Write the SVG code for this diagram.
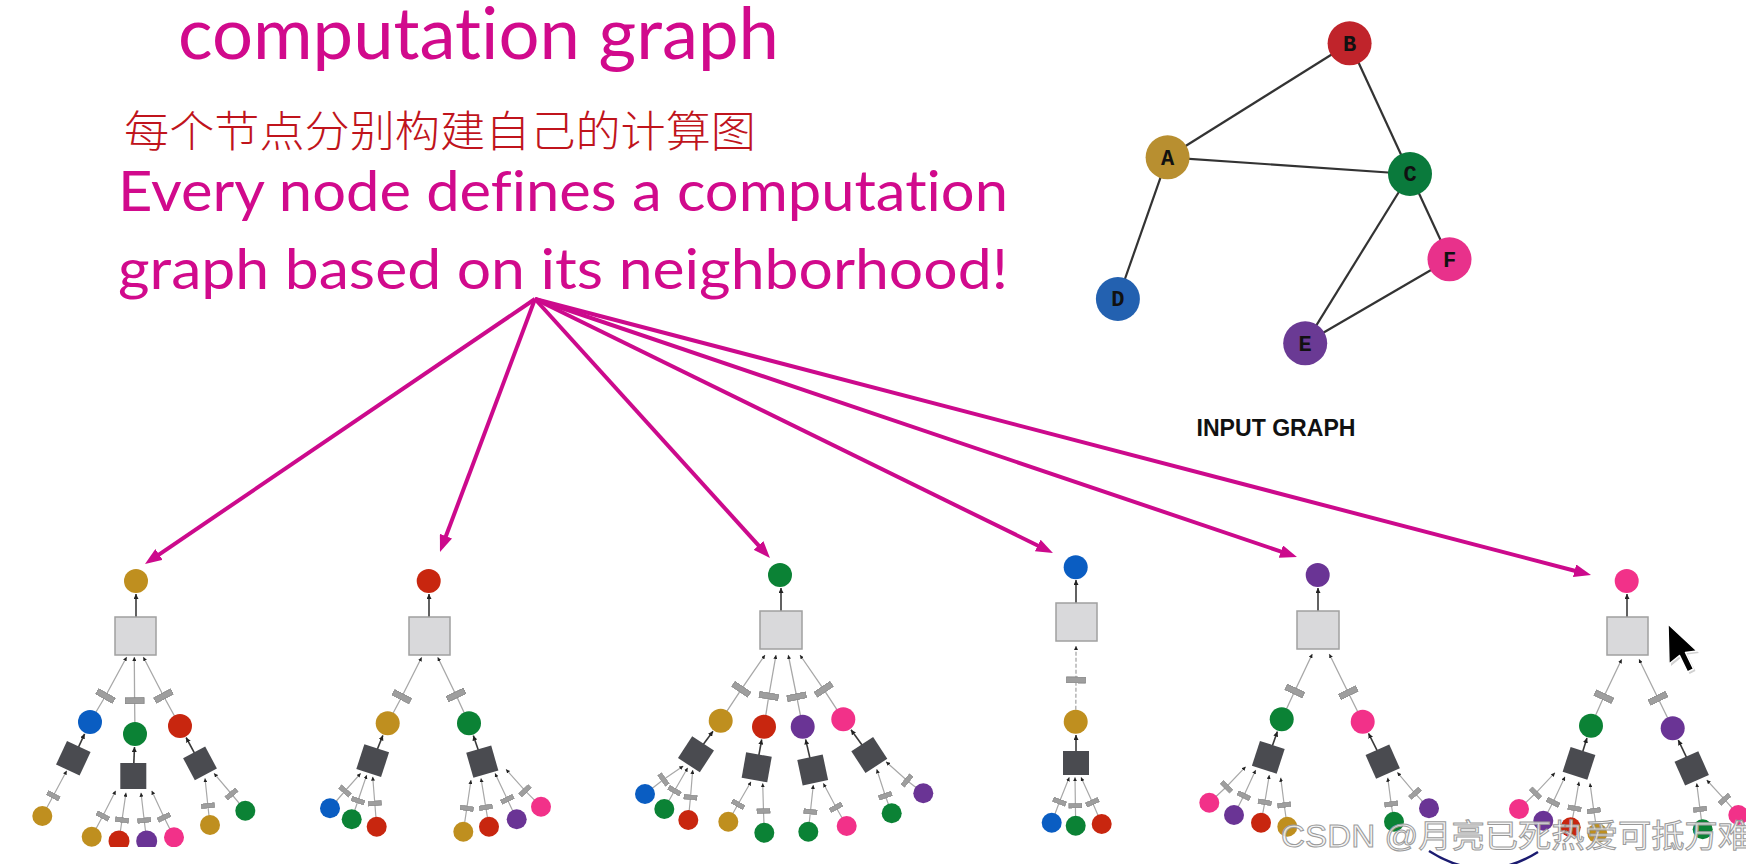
<svg xmlns="http://www.w3.org/2000/svg" width="1746" height="864" viewBox="0 0 1746 864">
<style>
.t{font-family:Lato,"Open Sans",sans-serif;fill:#D10A8C;font-variant-ligatures:none}
.cn{font-family:"Noto Sans CJK SC",sans-serif;fill:#C0141C;font-size:43px;font-weight:300}
.ge{stroke:#333;stroke-width:2.2}
.gl{font-family:"Liberation Mono",monospace;font-weight:bold;font-size:22px;fill:#111;text-anchor:middle}
.ma{stroke:#CC0A8C;stroke-width:4;fill:none;marker-end:url(#ma)}
.bs{fill:#D9D9DB;stroke:#A0A0A0;stroke-width:1.5}
.ds{fill:#4A4B50}
.e1{fill:none;stroke:#A8A8A8;stroke-width:1.3;marker-mid:url(#r1);marker-end:url(#ah)}
.e2{fill:none;stroke:#A8A8A8;stroke-width:1.2;marker-mid:url(#r2);marker-end:url(#ah)}
.ed{stroke:#3A3A3A;stroke-width:1.6;marker-end:url(#ad)}
.dsh{stroke-dasharray:4 2}
.go{fill:#BF8F1F}.rd{fill:#C8260F}.gr{fill:#0B8235}.bl{fill:#0A5DC2}.pu{fill:#6A3495}.pk{fill:#F23189}
.wm{font-family:"Liberation Sans","Noto Sans CJK SC",sans-serif;font-size:32px;fill:#f4f4f4;fill-opacity:0.85;stroke:#9a9a9a;stroke-width:1}
</style>
<defs>
<marker id="ma" viewBox="0 0 17 13" refX="5" refY="6.5" markerWidth="17" markerHeight="13" markerUnits="userSpaceOnUse" orient="auto"><path d="M0,0 L17,6.5 L0,13 z" fill="#CC0A8C"/></marker>
<marker id="ah" viewBox="0 0 4 4" refX="4" refY="2" markerWidth="4" markerHeight="4" markerUnits="userSpaceOnUse" orient="auto"><path d="M0,0 L4,2 L0,4 z" fill="#222"/></marker>
<marker id="ad" viewBox="0 0 5 5" refX="5" refY="2.5" markerWidth="5" markerHeight="5" markerUnits="userSpaceOnUse" orient="auto"><path d="M0,0 L5,2.5 L0,5 z" fill="#222"/></marker>
<marker id="r1" viewBox="0 0 7 20" refX="3.5" refY="10" markerWidth="7" markerHeight="20" markerUnits="userSpaceOnUse" orient="auto"><rect x="0.4" y="0.4" width="6.2" height="19.2" fill="#9E9E9E" stroke="#808080" stroke-width="0.7"/></marker>
<marker id="r2" viewBox="0 0 5.5 14" refX="2.75" refY="7" markerWidth="5.5" markerHeight="14" markerUnits="userSpaceOnUse" orient="auto"><rect x="0.35" y="0.35" width="4.8" height="13.3" fill="#9E9E9E" stroke="#808080" stroke-width="0.6"/></marker>
<clipPath id="c1"><rect x="0" y="0" width="300" height="847"/></clipPath>
</defs>
<rect width="1746" height="864" fill="#fff"/>

<g id="texts">
<text class="t" x="178" y="59" font-size="72" textLength="601" lengthAdjust="spacingAndGlyphs">computation graph</text>
<text class="cn" x="124" y="147" textLength="632" lengthAdjust="spacingAndGlyphs">每个节点分别构建自己的计算图</text>
<text class="t" x="118" y="211" font-size="57" textLength="890" lengthAdjust="spacingAndGlyphs">Every node defines a computation</text>
<text class="t" x="118" y="289" font-size="57" textLength="890" lengthAdjust="spacingAndGlyphs">graph based on its neighborhood!</text>
<text x="1196.5" y="436" font-family="Liberation Sans,Arial,sans-serif" font-weight="bold" font-size="23" fill="#111" textLength="159" lengthAdjust="spacingAndGlyphs">INPUT GRAPH</text>
</g>

<g id="connectors">
<g id="main-arrows">
<line class="ma" x1="535" y1="299" x2="154.9" y2="557.3"/>
<line class="ma" x1="535" y1="299" x2="444.2" y2="540.8"/>
<line class="ma" x1="535" y1="299" x2="761.9" y2="549.1"/>
<line class="ma" x1="535" y1="299" x2="1042.2" y2="547.7"/>
<line class="ma" x1="535" y1="299" x2="1285.6" y2="553.1"/>
<line class="ma" x1="535" y1="299" x2="1579.4" y2="572"/>
</g>
<g id="input-edges">
<line class="ge" x1="1349.6" y1="43.3" x2="1167.6" y2="157.3"/>
<line class="ge" x1="1349.6" y1="43.3" x2="1410" y2="174"/>
<line class="ge" x1="1167.6" y1="157.3" x2="1410" y2="174"/>
<line class="ge" x1="1167.6" y1="157.3" x2="1117.9" y2="299"/>
<line class="ge" x1="1410" y1="174" x2="1305.2" y2="343.3"/>
<line class="ge" x1="1410" y1="174" x2="1449.5" y2="259.3"/>
<line class="ge" x1="1449.5" y1="259.3" x2="1305.2" y2="343.3"/>
</g>
<g id="tree-A-edges">
<line class="ed" x1="136" y1="617" x2="136" y2="594"/>
<polyline class="e1" points="90,722 105.5,696 126.7,657"/>
<polyline class="e1" points="135,734 134.6,700.7 134.3,657"/>
<polyline class="e1" points="180,726 163.5,696 143.3,657"/>
<line class="ed" x1="73.3" y1="758.3" x2="84.6" y2="733.8"/>
<line class="ed" x1="133.3" y1="776" x2="134.5" y2="747"/>
<line class="ed" x1="200" y1="763.3" x2="186.1" y2="737.5"/>
<polyline class="e2" points="42.3,816 53.3,795.7 66.7,770.7"/>
<polyline class="e2" points="91.7,836.7 102.8,816 115.7,790.7"/>
<polyline class="e2" points="119,841 122,820 126,792.7"/>
<polyline class="e2" points="146.7,841 144.2,820.3 141,792.7"/>
<polyline class="e2" points="174,837.3 164,817.3 151.7,790.7"/>
<polyline class="e2" points="210,825 207.9,805.7 205,778.3"/>
<polyline class="e2" points="245.3,810.7 231.5,794 214,773.3"/>
</g>
<g id="tree-B-edges">
<line class="ed" x1="429" y1="617" x2="429" y2="594"/>
<polyline class="e1" points="387.7,723.3 401.8,696.7 421.7,657.3"/>
<polyline class="e1" points="469,723.3 456,695 437.7,657.3"/>
<line class="ed" x1="372.7" y1="760.7" x2="382.9" y2="735.4"/>
<line class="ed" x1="482.3" y1="761.7" x2="473.3" y2="735.6"/>
<polyline class="e2" points="330,808.3 345,791 360.7,773.3"/>
<polyline class="e2" points="351.7,819.3 358,800.7 366.7,775"/>
<polyline class="e2" points="376.7,826.7 374.8,803.3 372.7,776.7"/>
<polyline class="e2" points="463.3,831.7 466.8,808.3 471,780"/>
<polyline class="e2" points="489,826.7 485.8,807.3 481,778.3"/>
<polyline class="e2" points="516.7,819.3 507.3,799.3 495,773.3"/>
<polyline class="e2" points="541,806.7 525,790.7 506,769.3"/>
</g>
<g id="tree-C-edges">
<line class="ed" x1="781" y1="611" x2="781" y2="588"/>
<polyline class="e1" points="720.7,720.7 741.3,689.3 765,655"/>
<polyline class="e1" points="764,726.7 768.8,696 776,655"/>
<polyline class="e1" points="802.7,726.7 796.7,696.7 788.3,655"/>
<polyline class="e1" points="843.3,719.3 823.7,689.3 800,655"/>
<line class="ed" x1="696" y1="754.3" x2="713" y2="731.2"/>
<line class="ed" x1="756.7" y1="767.3" x2="761.7" y2="739.5"/>
<line class="ed" x1="812.7" y1="770" x2="805.6" y2="739.4"/>
<line class="ed" x1="869.3" y1="755" x2="851" y2="729.8"/>
<polyline class="e2" points="645,794 663.5,779.5 683.3,766"/>
<polyline class="e2" points="664.3,809 674.5,790.7 687.7,767.7"/>
<polyline class="e2" points="688.3,820 690.5,797.3 692.7,770"/>
<polyline class="e2" points="728.3,821.7 738,804.3 751,781.7"/>
<polyline class="e2" points="764.3,832.7 763.5,811 762.7,783.3"/>
<polyline class="e2" points="808.3,831.7 810.4,811.7 813.3,785"/>
<polyline class="e2" points="846.7,826 836,807.3 823.3,783.3"/>
<polyline class="e2" points="891.7,813.3 885.3,795.7 876.7,769.3"/>
<polyline class="e2" points="923.3,793.3 907,780.5 886,761.7"/>
</g>
<g id="tree-D-edges">
<line class="ed" x1="1076" y1="603" x2="1076" y2="580"/>
<polyline class="e1 dsh" points="1075.7,721.7 1076,680 1076,646"/>
<line class="ed" x1="1076" y1="763" x2="1076" y2="735"/>
<polyline class="e2" points="1051.7,822.7 1059.5,801.7 1069.3,777.3"/>
<polyline class="e2" points="1075.7,825.7 1075.4,805.7 1075,777.3"/>
<polyline class="e2" points="1101.7,824 1092.4,802.3 1081,777.3"/>
</g>
<g id="tree-E-edges">
<line class="ed" x1="1318" y1="611" x2="1318" y2="588"/>
<polyline class="e1" points="1281.7,719.3 1294.8,691 1312.3,654"/>
<polyline class="e1" points="1362.7,721.7 1348.3,692.7 1329.3,654"/>
<line class="ed" x1="1268.3" y1="757.3" x2="1277.4" y2="731.6"/>
<line class="ed" x1="1382.7" y1="761.7" x2="1368.5" y2="733.3"/>
<polyline class="e2" points="1209.3,802.7 1226.5,786.7 1245.7,766.7"/>
<polyline class="e2" points="1234,815 1243.8,795.7 1255.7,770"/>
<polyline class="e2" points="1261,822.7 1264.8,802.3 1269.3,775"/>
<polyline class="e2" points="1287.3,826.7 1284.2,805 1280.7,777.7"/>
<polyline class="e2" points="1394,821.7 1391.2,804 1387.7,777.7"/>
<polyline class="e2" points="1429,808.3 1415,793.3 1397.3,772.3"/>
</g>
<g id="tree-F-edges">
<line class="ed" x1="1627" y1="617" x2="1627" y2="594"/>
<polyline class="e1" points="1591,725.7 1603.8,696.7 1621.7,659.3"/>
<polyline class="e1" points="1672.7,728.3 1658,698.3 1639,659.3"/>
<line class="ed" x1="1579" y1="763.3" x2="1587" y2="738.1"/>
<line class="ed" x1="1691.7" y1="768.3" x2="1678.3" y2="740.1"/>
<polyline class="e2" points="1519,809 1535.5,793.3 1555,772.7"/>
<polyline class="e2" points="1543.3,820.7 1553,802.3 1565,776.7"/>
<polyline class="e2" points="1570.7,827.3 1574.5,808.3 1579,781.7"/>
<polyline class="e2" points="1597.3,833.3 1593.8,810.7 1590,783.3"/>
<polyline class="e2" points="1702.7,829.3 1700,809.3 1696.7,783.3"/>
<polyline class="e2" points="1738.3,815 1724.5,799.3 1706.7,780"/>
</g>
</g>

<g id="input-graph">
<g id="node-B"><circle cx="1349.6" cy="43.3" r="22" fill="#C0242B"/><text class="gl" x="1349.6" y="50.5">B</text></g>
<g id="node-A"><circle cx="1167.6" cy="157.3" r="22" fill="#B88F30"/><text class="gl" x="1167.6" y="164.5">A</text></g>
<g id="node-C"><circle cx="1410" cy="174" r="22" fill="#0A7A3C"/><text class="gl" x="1410" y="181.2">C</text></g>
<g id="node-F"><circle cx="1449.5" cy="259.3" r="22" fill="#E8318B"/><text class="gl" x="1449.5" y="266.5">F</text></g>
<g id="node-D"><circle cx="1117.9" cy="299" r="22" fill="#2361B0"/><text class="gl" x="1117.9" y="306.2">D</text></g>
<g id="node-E"><circle cx="1305.2" cy="343.3" r="22" fill="#6A3A94"/><text class="gl" x="1305.2" y="350.5">E</text></g>
</g>

<g id="tree-A" clip-path="url(#c1)">
<circle id="a-root" class="go" cx="136" cy="581" r="12"/>
<rect id="a-agg" class="bs" x="115" y="617" width="41" height="38"/>
<circle id="a-b" class="bl" cx="90" cy="722" r="12"/>
<circle id="a-c" class="gr" cx="135" cy="734" r="12"/>
<circle id="a-d" class="rd" cx="180" cy="726" r="12"/>
<rect id="a-b-agg" class="ds" x="-13" y="-13" width="26" height="26" transform="translate(73.3 758.3) rotate(25)"/>
<rect id="a-c-agg" class="ds" x="-13" y="-13" width="26" height="26" transform="translate(133.3 776)"/>
<rect id="a-d-agg" class="ds" x="-12.5" y="-12.5" width="25" height="25" transform="translate(200 763.3) rotate(-28)"/>
<circle class="go" cx="42.3" cy="816" r="10"/>
<circle class="go" cx="91.7" cy="836.7" r="10"/>
<circle class="rd" cx="119" cy="841" r="10.5"/>
<circle class="pu" cx="146.7" cy="841" r="10.5"/>
<circle class="pk" cx="174" cy="837.3" r="10"/>
<circle class="go" cx="210" cy="825" r="10"/>
<circle class="gr" cx="245.3" cy="810.7" r="10"/>
</g>

<g id="tree-B">
<circle id="b-root" class="rd" cx="428.7" cy="581" r="12"/>
<rect id="b-agg" class="bs" x="409" y="617" width="41" height="38"/>
<circle class="go" cx="387.7" cy="723.3" r="12"/>
<circle class="gr" cx="469" cy="723.3" r="12"/>
<rect class="ds" x="-13" y="-13" width="26" height="26" transform="translate(372.7 760.7) rotate(18)"/>
<rect class="ds" x="-13" y="-13" width="26" height="26" transform="translate(482.3 761.7) rotate(-16)"/>
<circle class="bl" cx="330" cy="808.3" r="10"/>
<circle class="gr" cx="351.7" cy="819.3" r="10"/>
<circle class="rd" cx="376.7" cy="826.7" r="10"/>
<circle class="go" cx="463.3" cy="831.7" r="10"/>
<circle class="rd" cx="489" cy="826.7" r="10"/>
<circle class="pu" cx="516.7" cy="819.3" r="10"/>
<circle class="pk" cx="541" cy="806.7" r="10"/>
</g>

<g id="tree-C">
<circle id="c-root" class="gr" cx="780" cy="575" r="12"/>
<rect id="c-agg" class="bs" x="760" y="611" width="42" height="38"/>
<circle class="go" cx="720.7" cy="720.7" r="12"/>
<circle class="rd" cx="764" cy="726.7" r="12"/>
<circle class="pu" cx="802.7" cy="726.7" r="12"/>
<circle class="pk" cx="843.3" cy="719.3" r="12"/>
<rect class="ds" x="-13" y="-13" width="26" height="26" transform="translate(696 754.3) rotate(33)"/>
<rect class="ds" x="-13" y="-13" width="26" height="26" transform="translate(756.7 767.3) rotate(10)"/>
<rect class="ds" x="-13" y="-13" width="26" height="26" transform="translate(812.7 770) rotate(-12)"/>
<rect class="ds" x="-13" y="-13" width="26" height="26" transform="translate(869.3 755) rotate(-33)"/>
<circle class="bl" cx="645" cy="794" r="10"/>
<circle class="gr" cx="664.3" cy="809" r="10"/>
<circle class="rd" cx="688.3" cy="820" r="10"/>
<circle class="go" cx="728.3" cy="821.7" r="10"/>
<circle class="gr" cx="764.3" cy="832.7" r="10"/>
<circle class="gr" cx="808.3" cy="831.7" r="10"/>
<circle class="pk" cx="846.7" cy="826" r="10"/>
<circle class="gr" cx="891.7" cy="813.3" r="10"/>
<circle class="pu" cx="923.3" cy="793.3" r="10"/>
</g>

<g id="tree-D">
<circle id="d-root" class="bl" cx="1075.7" cy="567.3" r="12"/>
<rect id="d-agg" class="bs" x="1056" y="603" width="41" height="38"/>
<circle class="go" cx="1075.7" cy="721.7" r="12"/>
<rect class="ds" x="-13" y="-12" width="26" height="24" transform="translate(1076 763)"/>
<circle class="bl" cx="1051.7" cy="822.7" r="10"/>
<circle class="gr" cx="1075.7" cy="825.7" r="10"/>
<circle class="rd" cx="1101.7" cy="824" r="10"/>
</g>

<g id="tree-E">
<circle id="e-root" class="pu" cx="1317.7" cy="575" r="12"/>
<rect id="e-agg" class="bs" x="1297" y="611" width="42" height="38"/>
<circle class="gr" cx="1281.7" cy="719.3" r="12"/>
<circle class="pk" cx="1362.7" cy="721.7" r="12"/>
<rect class="ds" x="-13" y="-13" width="26" height="26" transform="translate(1268.3 757.3) rotate(18)"/>
<rect class="ds" x="-13" y="-13" width="26" height="26" transform="translate(1382.7 761.7) rotate(-24)"/>
<circle class="pk" cx="1209.3" cy="802.7" r="10"/>
<circle class="pu" cx="1234" cy="815" r="10"/>
<circle class="rd" cx="1261" cy="822.7" r="10"/>
<circle class="go" cx="1287.3" cy="826.7" r="10"/>
<circle class="gr" cx="1394" cy="821.7" r="10"/>
<circle class="pu" cx="1429" cy="808.3" r="10"/>
</g>

<g id="tree-F">
<circle id="f-root" class="pk" cx="1626.7" cy="581" r="12"/>
<rect id="f-agg" class="bs" x="1607" y="617" width="41" height="38"/>
<circle class="gr" cx="1591" cy="725.7" r="12"/>
<circle class="pu" cx="1672.7" cy="728.3" r="12"/>
<rect class="ds" x="-13" y="-13" width="26" height="26" transform="translate(1579 763.3) rotate(18)"/>
<rect class="ds" x="-13" y="-13" width="26" height="26" transform="translate(1691.7 768.3) rotate(-24)"/>
<circle class="pk" cx="1519" cy="809" r="10"/>
<circle class="pu" cx="1543.3" cy="820.7" r="10"/>
<circle class="rd" cx="1570.7" cy="827.3" r="10"/>
<circle class="go" cx="1597.3" cy="833.3" r="10"/>
<circle class="gr" cx="1702.7" cy="829.3" r="10"/>
<circle class="pk" cx="1738.3" cy="815" r="10"/>
</g>

<g id="cursor">
<path d="M1670,627 L1671,666 L1681.5,657.5 L1689.5,674 L1695.5,671 L1687.5,654.5 L1699,653 Z" fill="#000" opacity="0.18"/>
<path d="M1668,624 L1669,664 L1679.5,655.5 L1687.5,672 L1693.5,669 L1685.5,652.5 L1697,651 Z" fill="#000" stroke="#fff" stroke-width="1.5" stroke-linejoin="round"/>
</g>

<path id="navy-curve" d="M1429,851 Q1484,886 1538,852" fill="none" stroke="#1B1B70" stroke-width="2.5"/>
<text class="wm" x="1281" y="847" textLength="470" lengthAdjust="spacingAndGlyphs">CSDN @月亮已死热爱可抵万难</text>
</svg>
